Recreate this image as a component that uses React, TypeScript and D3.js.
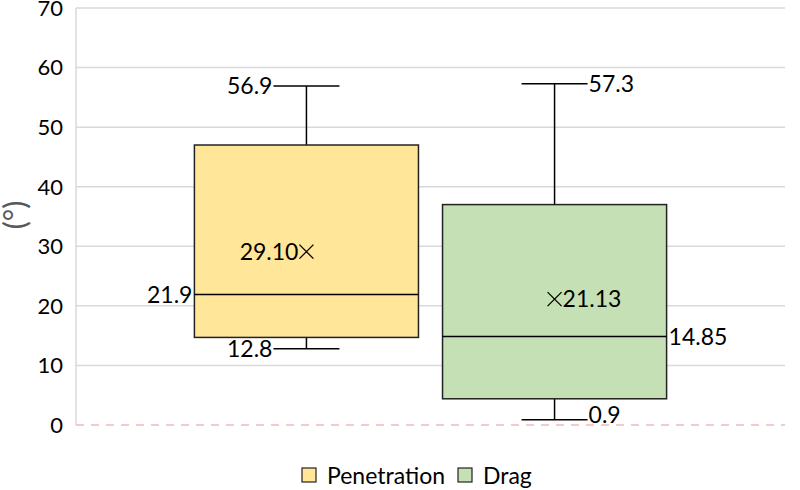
import React from "react";
import * as d3 from "d3";

const series = ["Penetration", "Drag"];
const mins = [12.8, 0.9];
const q1s = [14.7, 4.4];
const medians = [21.9, 14.85];
const q3s = [47.0, 37.0];
const maxs = [56.9, 57.3];
const means = [29.10, 21.13];
const minLabels = ["12.8", "0.9"];
const medianLabels = ["21.9", "14.85"];
const maxLabels = ["56.9", "57.3"];
const meanLabels = ["29.10", "21.13"];
const fills = ["#FFE699", "#C5E0B4"];
const yTicks = [0, 10, 20, 30, 40, 50, 60, 70];

const W = 800, H = 490;
const left = 76, right = 785, top = 8, bottom = 425;
const FONT = "Lato, 'Noto Sans', sans-serif";
const LF = 23;

export default function App() {
  const y = d3.scaleLinear().domain([0, 70]).range([bottom, top]);
  const center = (left + right) / 2;
  const x = d3.scaleBand<string>().domain(series).range([center - 248, center + 248]).paddingInner(0.097).paddingOuter(0.048);
  const bw = x.bandwidth();
  const capHalf = 33;
  return (
    <svg width={W} height={H} style={{ position: "absolute", left: 0, top: 0 }} fontFamily={FONT}>
      <rect width={W} height={H} fill="#fff" />
      {yTicks.map((t) => (
        <g key={t}>
          {t > 0 && <line x1={left} x2={right} y1={y(t)} y2={y(t)} stroke="#d9d9d9" strokeWidth={1.5} />}
          <text x={63} y={y(t)} dy="0.36em" textAnchor="end" fontSize={22} fill="#000">{t}</text>
        </g>
      ))}
      <line x1={left} x2={left} y1={top} y2={bottom} stroke="#d9d9d9" strokeWidth={1.5} />
      <line x1={left} x2={right} y1={y(0)} y2={y(0)} stroke="#f4b9b9" strokeWidth={1.5} strokeDasharray="8 7" />
      <text transform={`translate(26,${215}) rotate(-90)`} textAnchor="middle" fontSize={30} fill="#595959">(°)</text>
      {series.map((s, i) => {
        const x0 = x(s)!;
        const cx = x0 + bw / 2;
        const lastIsRight = i === 1;
        return (
          <g key={s}>
            <line x1={cx} x2={cx} y1={y(maxs[i])} y2={y(q3s[i])} stroke="#000" strokeWidth={1.5} />
            <line x1={cx} x2={cx} y1={y(mins[i])} y2={y(q1s[i])} stroke="#000" strokeWidth={1.5} />
            <line x1={cx - capHalf} x2={cx + capHalf} y1={y(maxs[i])} y2={y(maxs[i])} stroke="#000" strokeWidth={1.5} />
            <line x1={cx - capHalf} x2={cx + capHalf} y1={y(mins[i])} y2={y(mins[i])} stroke="#000" strokeWidth={1.5} />
            <rect x={x0} y={y(q3s[i])} width={bw} height={y(q1s[i]) - y(q3s[i])} fill={fills[i]} stroke="#222" strokeWidth={1.5} />
            <line x1={x0} x2={x0 + bw} y1={y(medians[i])} y2={y(medians[i])} stroke="#000" strokeWidth={1.5} />
            <path d={`M${cx - 7},${y(means[i]) - 7}L${cx + 7},${y(means[i]) + 7}M${cx - 7},${y(means[i]) + 7}L${cx + 7},${y(means[i]) - 7}`} stroke="#000" strokeWidth={1.3} fill="none" />
            {lastIsRight ? (
              <>
                <text x={cx + capHalf + 1} y={y(maxs[i])} dy="0.35em" fontSize={LF}>{maxLabels[i]}</text>
                <text x={cx + capHalf + 1} y={y(mins[i])} dy="0.15em" fontSize={LF}>{minLabels[i]}</text>
                <text x={x0 + bw + 2} y={y(medians[i])} dy="0.35em" fontSize={LF}>{medianLabels[i]}</text>
                <text x={cx + 8} y={y(means[i])} dy="0.35em" fontSize={LF}>{meanLabels[i]}</text>
              </>
            ) : (
              <>
                <text x={cx - capHalf - 1} y={y(maxs[i])} dy="0.35em" textAnchor="end" fontSize={LF}>{maxLabels[i]}</text>
                <text x={cx - capHalf - 1} y={y(mins[i])} dy="0.35em" textAnchor="end" fontSize={LF}>{minLabels[i]}</text>
                <text x={x0 - 2} y={y(medians[i])} dy="0.35em" textAnchor="end" fontSize={LF}>{medianLabels[i]}</text>
                <text x={cx - 8} y={y(means[i])} dy="0.35em" textAnchor="end" fontSize={LF}>{meanLabels[i]}</text>
              </>
            )}
          </g>
        );
      })}
      {series.map((s, i) => {
        const lx = [302, 458][i];
        return (
          <g key={"lg" + s}>
            <rect x={lx} y={468} width={14} height={14} fill={fills[i]} stroke="#222" strokeWidth={1.2} />
            <text x={lx + 25} y={476} dy="0.35em" fontSize={23} fill="#000">{s}</text>
          </g>
        );
      })}
    </svg>
  );
}
